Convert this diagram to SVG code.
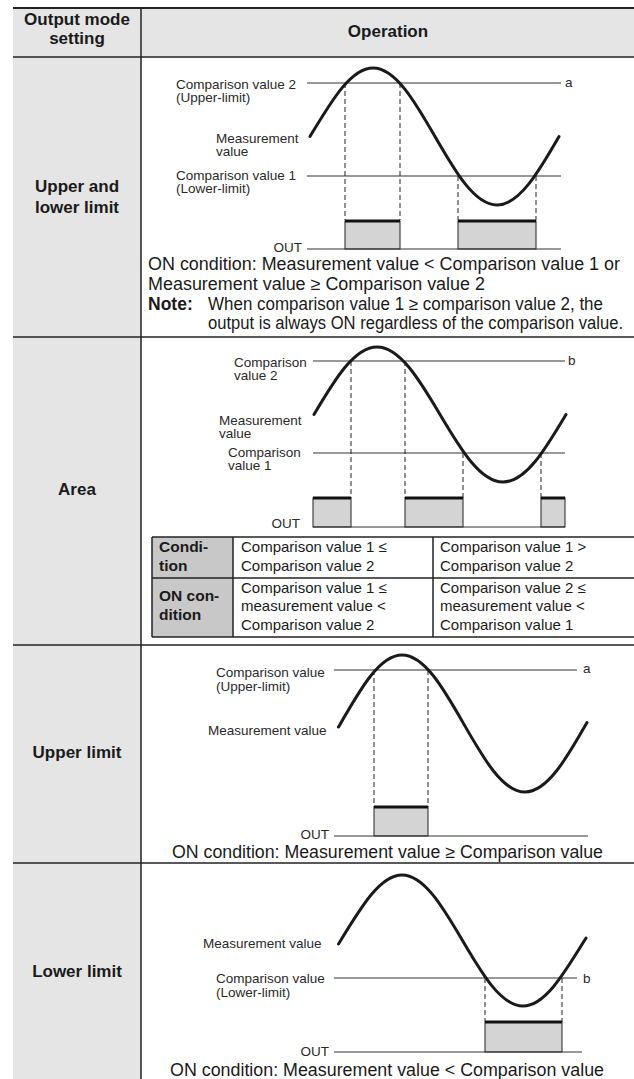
<svg xmlns="http://www.w3.org/2000/svg" width="634" height="1079" viewBox="0 0 634 1079">
<defs>
<style>
.t{font-family:"Liberation Sans",Arial,sans-serif;fill:#1a1a1a}
.h{font-weight:bold;font-size:17px;text-anchor:middle}
.lbl{font-size:13.5px;fill:#2a2a2a}
.end{text-anchor:end}
.cond{font-size:17.5px}
.tb{font-size:15px}
.tbh{font-size:15.5px;font-weight:bold}
.grid{stroke:#222;stroke-width:1.5;fill:none}
.ref{stroke:#333;stroke-width:1;fill:none}
.dash{stroke:#222;stroke-width:1;stroke-dasharray:5 3;fill:none}
.wave{stroke:#1a1a1a;stroke-width:3;fill:none;stroke-linecap:round}
.box{fill:#d4d4d4;stroke:#222;stroke-width:1}
.top{stroke:#111;stroke-width:3}
</style>
</defs>
<rect x="0" y="0" width="634" height="1079" fill="#fff"/>
<rect x="13" y="8" width="621" height="49" fill="#e5e5e5"/>
<rect x="13" y="57" width="128" height="1022" fill="#e5e5e5"/>

<g id="table-grid" class="grid">
<line x1="13" y1="8" x2="634" y2="8" stroke-width="2"/>
<line x1="13" y1="57" x2="634" y2="57"/>
<line x1="13" y1="337" x2="634" y2="337"/>
<line x1="13" y1="645" x2="634" y2="645"/>
<line x1="13" y1="863" x2="634" y2="863"/>
<line x1="141" y1="8" x2="141" y2="1079"/>
</g>

<g id="header">
<text class="t h" x="77" y="25">Output mode</text>
<text class="t h" x="77" y="44">setting</text>
<text class="t h" x="388" y="37">Operation</text>
</g>

<g id="row-upper-lower">
<text class="t h" x="77" y="192">Upper and</text>
<text class="t h" x="77" y="213">lower limit</text>
<line class="ref" x1="307" y1="83" x2="561" y2="83"/>
<line class="ref" x1="307" y1="176" x2="561" y2="176"/>
<text class="t lbl" x="565" y="87">a</text>
<text class="t lbl" x="176" y="89">Comparison value 2</text>
<text class="t lbl" x="176" y="102">(Upper-limit)</text>
<text class="t lbl" x="216" y="143">Measurement</text>
<text class="t lbl" x="216" y="156">value</text>
<text class="t lbl" x="176" y="180">Comparison value 1</text>
<text class="t lbl" x="176" y="193">(Lower-limit)</text>
<line class="dash" x1="345" y1="83" x2="345" y2="220"/>
<line class="dash" x1="400" y1="83" x2="400" y2="220"/>
<line class="dash" x1="458" y1="176" x2="458" y2="220"/>
<line class="dash" x1="536" y1="176" x2="536" y2="220"/>
<rect class="box" x="345" y="221" width="55" height="28"/>
<rect class="box" x="458" y="221" width="78" height="28"/>
<line class="top" x1="345" y1="221" x2="400" y2="221"/>
<line class="top" x1="458" y1="221" x2="536" y2="221"/>
<line class="ref" x1="307" y1="249" x2="561" y2="249"/>
<text class="t lbl end" x="302" y="252">OUT</text>
<path class="wave" d="M310,136.5 C331.2,101.4 350.6,68 373,68 C395.4,68 414.8,101.4 435,136.5 C455.2,171.6 474.6,205 497,205 C519.4,205 538.8,171.6 559,136.5"/>
<text class="t cond" x="148" y="270" textLength="472" lengthAdjust="spacingAndGlyphs">ON condition: Measurement value &lt; Comparison value 1 or</text>
<text class="t cond" x="148" y="290" textLength="337" lengthAdjust="spacingAndGlyphs">Measurement value ≥ Comparison value 2</text>
<text class="t cond" x="148" y="310" font-weight="bold">Note:</text>
<text class="t cond" x="208" y="310" textLength="395" lengthAdjust="spacingAndGlyphs">When comparison value 1 ≥ comparison value 2, the</text>
<text class="t cond" x="208" y="329" textLength="415" lengthAdjust="spacingAndGlyphs">output is always ON regardless of the comparison value.</text>
</g>

<g id="row-area">
<text class="t h" x="77" y="495">Area</text>
<line class="ref" x1="313" y1="361" x2="565" y2="361"/>
<line class="ref" x1="313" y1="453" x2="565" y2="453"/>
<text class="t lbl" x="568" y="365">b</text>
<text class="t lbl" x="234" y="367">Comparison</text>
<text class="t lbl" x="234" y="380">value 2</text>
<text class="t lbl" x="219" y="425">Measurement</text>
<text class="t lbl" x="219" y="438">value</text>
<text class="t lbl" x="228" y="457">Comparison</text>
<text class="t lbl" x="228" y="470">value 1</text>
<line class="dash" x1="351" y1="361" x2="351" y2="498"/>
<line class="dash" x1="405" y1="361" x2="405" y2="498"/>
<line class="dash" x1="463" y1="453" x2="463" y2="498"/>
<line class="dash" x1="541" y1="453" x2="541" y2="498"/>
<rect class="box" x="313" y="498" width="38" height="29"/>
<rect class="box" x="405" y="498" width="58" height="29"/>
<rect class="box" x="541" y="498" width="24" height="29"/>
<line class="top" x1="313" y1="498" x2="351" y2="498"/>
<line class="top" x1="405" y1="498" x2="463" y2="498"/>
<line class="top" x1="541" y1="498" x2="565" y2="498"/>
<line class="ref" x1="313" y1="527" x2="565" y2="527"/>
<text class="t lbl end" x="300" y="528">OUT</text>
<path class="wave" d="M314,414.5 C334.5,379.9 354.2,347 377,347 C399.8,347 419.5,379.9 440,414.5 C460.5,449.1 480.2,482 503,482 C525.8,482 545.5,449.1 566,414.5"/>
<g id="area-table">
<rect x="152" y="537" width="81" height="100" fill="#c8c8c8"/>
<g class="grid">
<line x1="152" y1="537" x2="634" y2="537"/>
<line x1="152" y1="578" x2="634" y2="578"/>
<line x1="152" y1="637" x2="634" y2="637"/>
<line x1="152" y1="537" x2="152" y2="637"/>
<line x1="233" y1="537" x2="233" y2="637"/>
<line x1="433" y1="537" x2="433" y2="637"/>
</g>
<text class="t tbh" x="159" y="552">Condi-</text>
<text class="t tbh" x="159" y="571">tion</text>
<text class="t tbh" x="159" y="601">ON con-</text>
<text class="t tbh" x="159" y="620">dition</text>
<text class="t tb" x="241" y="552">Comparison value 1 ≤</text>
<text class="t tb" x="241" y="571">Comparison value 2</text>
<text class="t tb" x="440" y="552">Comparison value 1 &gt;</text>
<text class="t tb" x="440" y="571">Comparison value 2</text>
<text class="t tb" x="241" y="593">Comparison value 1 ≤</text>
<text class="t tb" x="241" y="611">measurement value &lt;</text>
<text class="t tb" x="241" y="630">Comparison value 2</text>
<text class="t tb" x="440" y="593">Comparison value 2 ≤</text>
<text class="t tb" x="440" y="611">measurement value &lt;</text>
<text class="t tb" x="440" y="630">Comparison value 1</text>
</g>
</g>

<g id="row-upper">
<text class="t h" x="77" y="758">Upper limit</text>
<line class="ref" x1="334" y1="670" x2="577" y2="670"/>
<text class="t lbl" x="583" y="673">a</text>
<text class="t lbl" x="216" y="677">Comparison value</text>
<text class="t lbl" x="216" y="691">(Upper-limit)</text>
<text class="t lbl" x="208" y="735">Measurement value</text>
<line class="dash" x1="374" y1="670" x2="374" y2="807"/>
<line class="dash" x1="428" y1="670" x2="428" y2="807"/>
<rect class="box" x="374" y="807" width="54" height="29"/>
<line class="top" x1="374" y1="807" x2="428" y2="807"/>
<line class="ref" x1="334" y1="836" x2="588" y2="836"/>
<text class="t lbl end" x="329" y="839">OUT</text>
<path class="wave" d="M338.5,727 C360.6,688.4 379.7,655 402,655 C424.3,655 443.4,688.4 463.5,723.5 C483.6,758.6 502.7,792 525,792 C547.3,792 566.4,758.6 587,722.5"/>
<text class="t cond" x="172" y="858" textLength="431" lengthAdjust="spacingAndGlyphs">ON condition: Measurement value ≥ Comparison value</text>
</g>

<g id="row-lower">
<text class="t h" x="77" y="977">Lower limit</text>
<line class="ref" x1="334" y1="978" x2="577" y2="978"/>
<text class="t lbl" x="583" y="983">b</text>
<text class="t lbl" x="203" y="948">Measurement value</text>
<text class="t lbl" x="216" y="983">Comparison value</text>
<text class="t lbl" x="216" y="997">(Lower-limit)</text>
<line class="dash" x1="485" y1="978" x2="485" y2="1022"/>
<line class="dash" x1="562" y1="978" x2="562" y2="1022"/>
<rect class="box" x="485" y="1022" width="77" height="30"/>
<line class="top" x1="485" y1="1022" x2="562" y2="1022"/>
<line class="ref" x1="334" y1="1052" x2="582" y2="1052"/>
<text class="t lbl end" x="329" y="1056">OUT</text>
<path class="wave" d="M338.5,944 C361.2,906.9 380.1,875 402,875 C423.9,875 442.8,906.9 462.5,940.5 C482.2,974.1 501.1,1006 523,1006 C544.9,1006 563.8,974.1 586,938"/>
<text class="t cond" x="170" y="1076" textLength="434" lengthAdjust="spacingAndGlyphs">ON condition: Measurement value &lt; Comparison value</text>
</g>
</svg>
